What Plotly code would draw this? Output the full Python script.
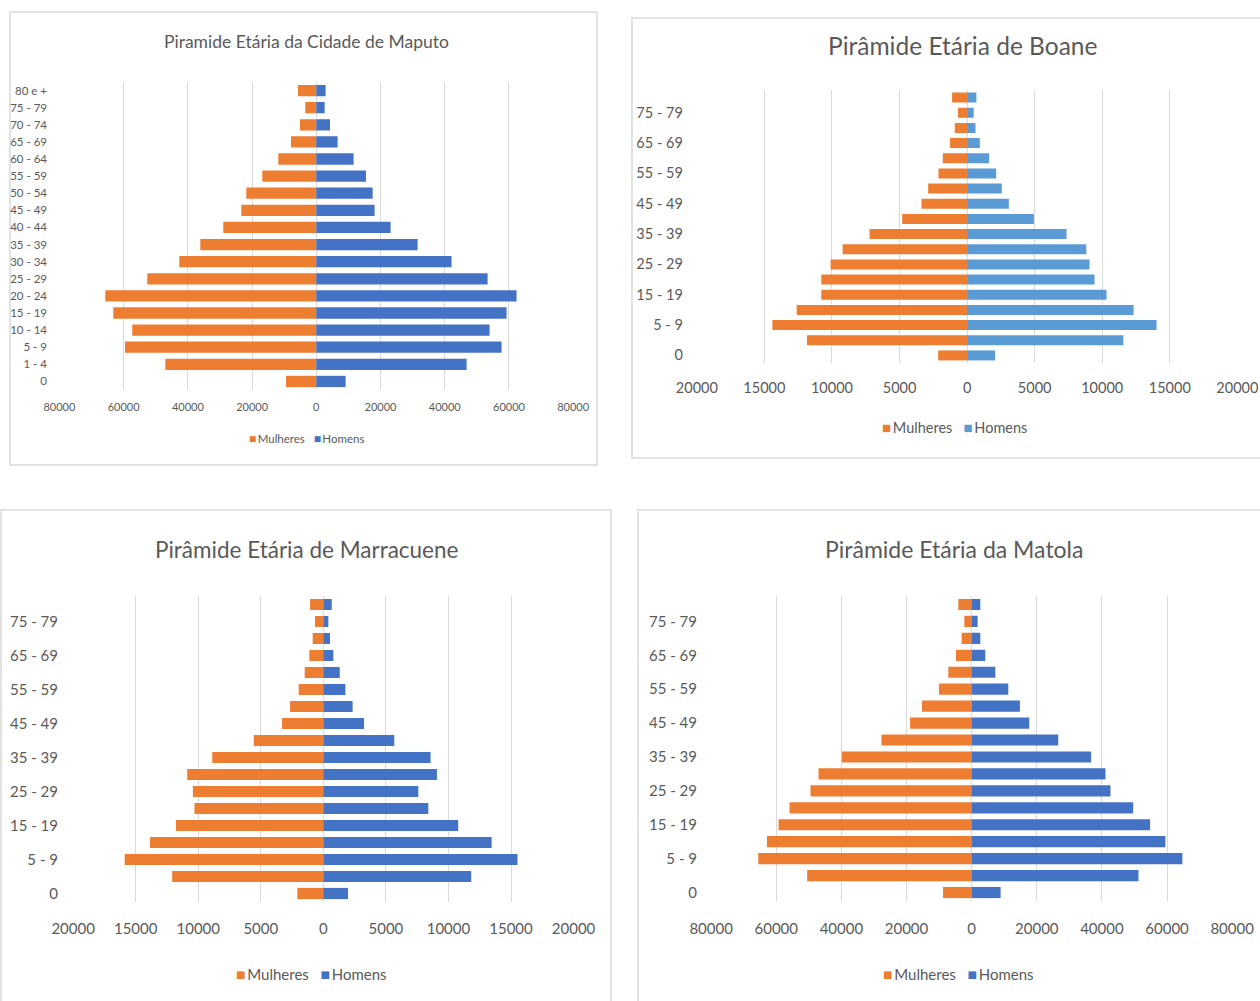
import plotly.graph_objects as go

W, H = 1260, 1001

# Age groups, bottom to top
faixas = ["0", "1 - 4", "5 - 9", "10 - 14", "15 - 19", "20 - 24", "25 - 29", "30 - 34",
          "35 - 39", "40 - 44", "45 - 49", "50 - 54", "55 - 59", "60 - 64", "65 - 69",
          "70 - 74", "75 - 79", "80 e +"]

maputo_mulheres = [9440, 47030, 59590, 57310, 63230, 65720, 52640, 42670, 36130, 28970,
                   23360, 21800, 16820, 11840, 7880, 5080, 3430, 5700]
maputo_homens = [9130, 46810, 57700, 53970, 59260, 62370, 53350, 42130, 31550, 23140,
                 18160, 17540, 15470, 11620, 6640, 4260, 2600, 2900]

boane_mulheres = [2140, 11850, 14410, 12610, 10790, 10790, 10100, 9210, 7220, 4800,
                  3380, 2880, 2120, 1800, 1260, 910, 670, 1110]
boane_homens = [2070, 11560, 14020, 12320, 10320, 9430, 9060, 8820, 7360, 4940,
                3090, 2570, 2150, 1630, 940, 620, 490, 690]

marracuene_mulheres = [2080, 12080, 15880, 13860, 11780, 10300, 10430, 10880, 8880, 5560,
                       3300, 2660, 1970, 1490, 1120, 850, 670, 1060]
marracuene_homens = [1970, 11820, 15520, 13450, 10780, 8390, 7590, 9080, 8570, 5670,
                     3250, 2340, 1760, 1310, 800, 530, 400, 670]

matola_mulheres = [8790, 50510, 65530, 62870, 59290, 55920, 49480, 47030, 39870, 27700,
                   18910, 15230, 10020, 7160, 4810, 3070, 2250, 4090]
matola_homens = [8890, 51220, 64710, 59490, 54800, 49590, 42630, 41100, 36700, 26580,
                 17690, 14820, 11250, 7260, 4190, 2660, 1840, 2660]

ticks_80k = [-80000, -60000, -40000, -20000, 0, 20000, 40000, 60000, 80000]
ticks_20k = [-20000, -15000, -10000, -5000, 0, 5000, 10000, 15000, 20000]

LARANJA = "#ED7D31"
AZUL = "#4472C4"
AZUL_CLARO = "#5B9BD5"
CINZA_TXT = "#595959"
CINZA_GRADE = "#D9D9D9"
FONTE = "Lato, Open Sans, sans-serif"


def px_x(v):
    return v / W


def px_y(v):
    return 1 - v / H


paineis = [
    dict(titulo="Piramide Etária da Cidade de Maputo", mulheres=maputo_mulheres, homens=maputo_homens,
         ticks=ticks_80k, azul=AZUL, x0=59.3, x1=573.3, y0=82, y1=390,
         box=(10, 12, 597, 465), titulo_y=41, titulo_x=306, legenda_y=438, legenda_x=306,
         fs_titulo=17.5, fs_cat=11.5, fs_tick=11, fs_leg=11.5, passo=1, cat_pad=9, tick_pad=7),
    dict(titulo="Pirâmide Etária de Boane", mulheres=boane_mulheres, homens=boane_homens,
         ticks=ticks_20k, azul=AZUL_CLARO, x0=696.7, x1=1237.5, y0=90, y1=363,
         box=(632, 18, 1300, 458), titulo_y=45, titulo_x=963, legenda_y=427, legenda_x=954,
         fs_titulo=24.5, fs_cat=14.5, fs_tick=14.5, fs_leg=14.5, passo=2, cat_pad=10, tick_pad=12),
    dict(titulo="Pirâmide Etária de Marracuene", mulheres=marracuene_mulheres, homens=marracuene_homens,
         ticks=ticks_20k, azul=AZUL, x0=73, x1=573.7, y0=596, y1=902,
         box=(1, 510, 611, 1050), titulo_y=549, titulo_x=307, legenda_y=973, legenda_x=311,
         fs_titulo=22.5, fs_cat=15, fs_tick=15, fs_leg=15, passo=2, cat_pad=11, tick_pad=13),
    dict(titulo="Pirâmide Etária da Matola", mulheres=matola_mulheres, homens=matola_homens,
         ticks=ticks_80k, azul=AZUL, x0=711, x1=1232.3, y0=596, y1=901,
         box=(638, 510, 1300, 1050), titulo_y=549, titulo_x=954, legenda_y=973, legenda_x=958,
         fs_titulo=23, fs_cat=15, fs_tick=15, fs_leg=15, passo=2, cat_pad=10, tick_pad=14),
]

fig = go.Figure()
shapes = []
annotations = []
layout_extra = {}

for i, p in enumerate(paineis, start=1):
    sfx = "" if i == 1 else str(i)
    xa, ya = f"x{sfx}", f"y{sfx}"

    fig.add_trace(go.Bar(
        y=faixas, x=[-v for v in p["mulheres"]], orientation="h", name="Mulheres",
        marker=dict(color=LARANJA, line=dict(width=0)), xaxis=xa, yaxis=ya, showlegend=False,
        customdata=p["mulheres"], hovertemplate="%{y}: %{customdata}<extra>Mulheres</extra>"))
    fig.add_trace(go.Bar(
        y=faixas, x=p["homens"], orientation="h", name="Homens",
        marker=dict(color=p["azul"], line=dict(width=0)), xaxis=xa, yaxis=ya, showlegend=False,
        hovertemplate="%{y}: %{x}<extra>Homens</extra>"))

    t = p["ticks"]
    layout_extra[f"xaxis{sfx}"] = dict(
        domain=[px_x(p["x0"]), px_x(p["x1"])], anchor=ya, automargin=False,
        range=[t[0] * 1.0005, t[-1] * 1.0005],
        tickmode="array", tickvals=t, ticktext=[str(abs(v)) for v in t],
        showgrid=True, gridcolor=CINZA_GRADE, gridwidth=1,
        zeroline=True, zerolinecolor=CINZA_GRADE, zerolinewidth=1,
        showline=False, ticks="outside", ticklen=p["tick_pad"], tickcolor="rgba(0,0,0,0)",
        tickfont=dict(family=FONTE, size=p["fs_tick"], color=CINZA_TXT),
        fixedrange=True,
    )
    layout_extra[f"yaxis{sfx}"] = dict(
        domain=[px_y(p["y1"]), px_y(p["y0"])], anchor=xa, automargin=False,
        type="category", categoryorder="array", categoryarray=faixas,
        range=[-0.5, len(faixas) - 0.5],
        tickmode="array", tickvals=faixas[::p["passo"]],
        showgrid=False, showline=False, zeroline=False,
        ticks="outside", ticklen=p["cat_pad"], tickcolor="rgba(0,0,0,0)",
        tickfont=dict(family=FONTE, size=p["fs_cat"], color=CINZA_TXT),
        fixedrange=True,
    )

    # panel frame and title
    bx0, by0, bx1, by1 = p["box"]
    shapes.append(dict(type="rect", xref="paper", yref="paper",
                       x0=px_x(bx0), x1=px_x(bx1), y0=px_y(by1), y1=px_y(by0),
                       line=dict(color=CINZA_GRADE, width=1.5), fillcolor="rgba(0,0,0,0)",
                       layer="below"))
    annotations.append(dict(text=p["titulo"], xref="paper", yref="paper",
                            x=px_x(p["titulo_x"]), y=px_y(p["titulo_y"]),
                            xanchor="center", yanchor="middle", showarrow=False,
                            font=dict(family=FONTE, size=p["fs_titulo"], color=CINZA_TXT)))

    # series key below each pyramid
    sq = round(p["fs_leg"] * 1.05, 1)
    esp = round(p["fs_leg"] * 0.45, 1)
    chave = (f"<span style='color:{LARANJA};font-size:{sq}px'>■</span>"
             f"<span style='font-size:{esp}px'> </span>Mulheres"
             f"&nbsp;&nbsp;&nbsp;<span style='color:{p['azul']};font-size:{sq}px'>■</span>"
             f"<span style='font-size:{esp}px'> </span>Homens")
    annotations.append(dict(text=chave, xref="paper", yref="paper",
                            x=px_x(p["legenda_x"]), y=px_y(p["legenda_y"]),
                            xanchor="center", yanchor="middle", showarrow=False,
                            font=dict(family=FONTE, size=p["fs_leg"], color=CINZA_TXT)))

fig.update_layout(
    width=W, height=H, margin=dict(l=0, r=0, t=0, b=0),
    paper_bgcolor="white", plot_bgcolor="white",
    barmode="overlay", bargap=0.34, showlegend=False,
    shapes=shapes, annotations=annotations,
    **layout_extra,
)

fig.write_html("out.html")
